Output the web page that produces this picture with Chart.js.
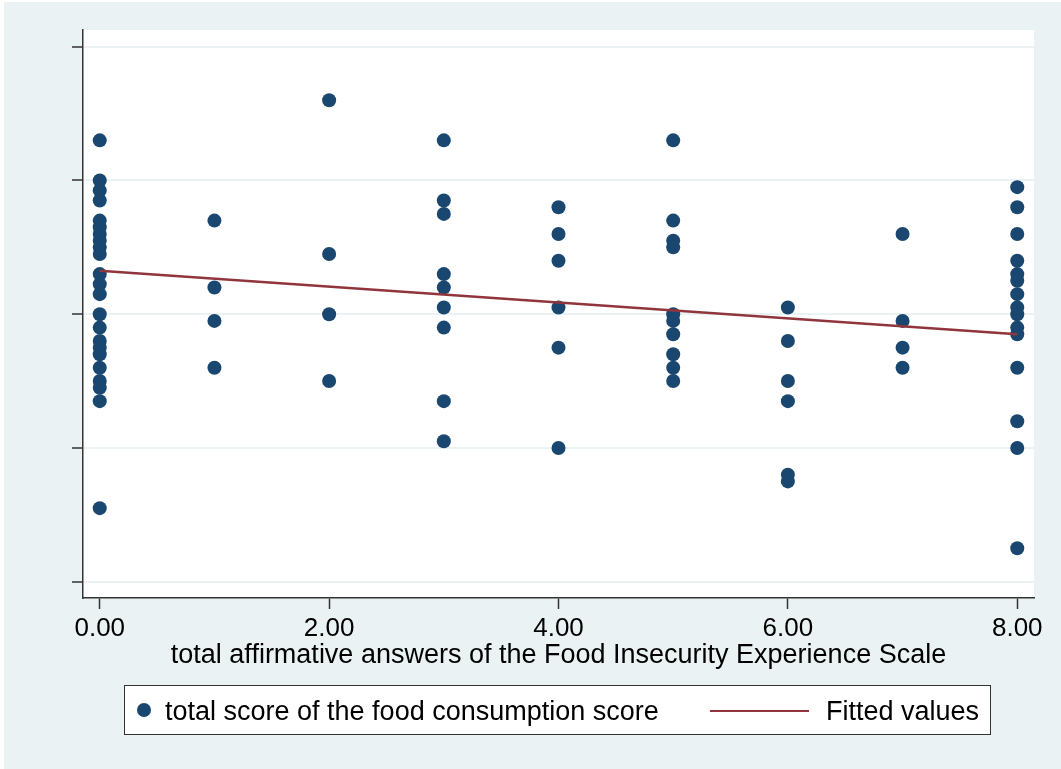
<!DOCTYPE html>
<html>
<head>
<meta charset="utf-8">
<script src="https://cdn.jsdelivr.net/npm/chart.js@4.4.0/dist/chart.umd.min.js"></script>
<style>
  body { margin: 0; background: #fff; }
  #wrap { position: absolute; left: 0; top: 0; width: 1061px; height: 769px; }
  #bg { position: absolute; left: 4px; top: 2px; right: 0; bottom: 0; background: #EAF2F3; }
  #chart { position: absolute; left: 0; top: 0; }
  #legend {
    position: absolute; left: 124px; top: 685px; width: 865px; height: 48px;
    background: #fff; border: 1px solid #333;
    font-family: "Liberation Sans", Arial, sans-serif; font-size: 27px; color: #000;
  }
  #legend span { position: absolute; top: 0; line-height: 50px; white-space: nowrap; }
  .dot { position: absolute; left: 12px; top: 17px; width: 14px; height: 14px; border-radius: 50%; background: #1A476F; }
  .ln { position: absolute; left: 585px; top: 24px; width: 99px; height: 2px; background: #90353B; }
</style>
</head>
<body>
<div id="wrap">
  <div id="bg"></div>
  <canvas id="chart" width="1061" height="769"></canvas>
  <div id="legend">
    <div class="dot"></div>
    <span style="left:40px">total score of the food consumption score</span>
    <div class="ln"></div>
    <span style="left:701px">Fitted values</span>
  </div>
</div>
<script>
// FIES affirmative answers (x) and food consumption score (y), read per column
var xTicks = [0, 2, 4, 6, 8];
var yTicks = [20, 40, 60, 80, 100];

var fcsAt0 = [86, 80, 78.5, 77, 74, 73, 72, 71, 70, 69, 66, 64.5, 63, 60, 58, 56, 55, 54, 52, 50, 49, 47, 31];
var fcsAt1 = [74, 64, 59, 52];
var fcsAt2 = [92, 69, 60, 50];
var fcsAt3 = [86, 77, 75, 66, 64, 61, 58, 47, 41];
var fcsAt4 = [76, 72, 68, 61, 55, 40];
var fcsAt5 = [86, 74, 71, 70, 60, 59, 57, 54, 52, 50];
var fcsAt6 = [61, 56, 50, 47, 36, 35];
var fcsAt7 = [72, 59, 55, 52];
var fcsAt8 = [79, 76, 72, 68, 66, 65, 63, 61, 60, 58, 57, 52, 44, 40, 25];

var fitX = [0, 8];
var fitY = [66.5, 57.0];

var columns = [fcsAt0, fcsAt1, fcsAt2, fcsAt3, fcsAt4, fcsAt5, fcsAt6, fcsAt7, fcsAt8];
var points = [];
columns.forEach(function (col, i) {
  col.forEach(function (v) {
    points.push({ x: i, y: v });
  });
});
var fitPoints = fitX.map(function (x, i) {
  return { x: x, y: fitY[i] };
});

var plotBg = {
  id: 'plotBg',
  beforeDraw: function (chart) {
    var a = chart.chartArea;
    chart.ctx.save();
    chart.ctx.fillStyle = '#fff';
    chart.ctx.fillRect(a.left, a.top, a.right - a.left, a.bottom - a.top);
    chart.ctx.restore();
  }
};

var font = "'Liberation Sans', Arial, sans-serif";

var chart = new Chart('chart', {
  type: 'scatter',
  plugins: [plotBg],
  data: {
    datasets: [
      {
        type: 'line',
        label: 'Fitted values',
        data: fitPoints,
        borderColor: '#90353B',
        borderWidth: 2.5,
        pointRadius: 0,
        fill: false
      },
      {
        label: 'total score of the food consumption score',
        data: points,
        backgroundColor: '#1A476F',
        borderWidth: 0,
        pointRadius: 7
      }
    ]
  },
  options: {
    responsive: false,
    animation: false,
    layout: { padding: { left: 0, top: 30, right: 27, bottom: 0 } },
    plugins: {
      legend: { display: false },
      tooltip: { enabled: false }
    },
    scales: {
      x: {
        type: 'linear',
        min: -0.146,
        max: 8.146,
        afterBuildTicks: function (s) {
          s.ticks = xTicks.map(function (v) { return { value: v }; });
        },
        afterFit: function (s) { s.height = 171; },
        grid: { drawOnChartArea: false, drawTicks: true, tickLength: 11, tickColor: '#333', tickWidth: 1.5 },
        border: { color: '#333', width: 1.5 },
        ticks: {
          color: '#000',
          padding: 4,
          maxRotation: 0,
          font: { family: font, size: 26 },
          callback: function (v) { return v.toFixed(2); }
        },
        title: {
          display: true,
          text: 'total affirmative answers of the Food Insecurity Experience Scale',
          color: '#000',
          font: { family: font, size: 27 },
          padding: { top: 0, bottom: 97 }
        }
      },
      y: {
        min: 17.56,
        max: 102.5,
        afterBuildTicks: function (s) {
          s.ticks = yTicks.map(function (v) { return { value: v }; });
        },
        afterFit: function (s) { s.width = 83; },
        grid: { color: '#EAF2F3', lineWidth: 2, tickColor: '#333', tickLength: 11, tickWidth: 1.5 },
        border: { color: '#333', width: 1.5 },
        ticks: { display: false }
      }
    }
  }
});
</script>
</body>
</html>
